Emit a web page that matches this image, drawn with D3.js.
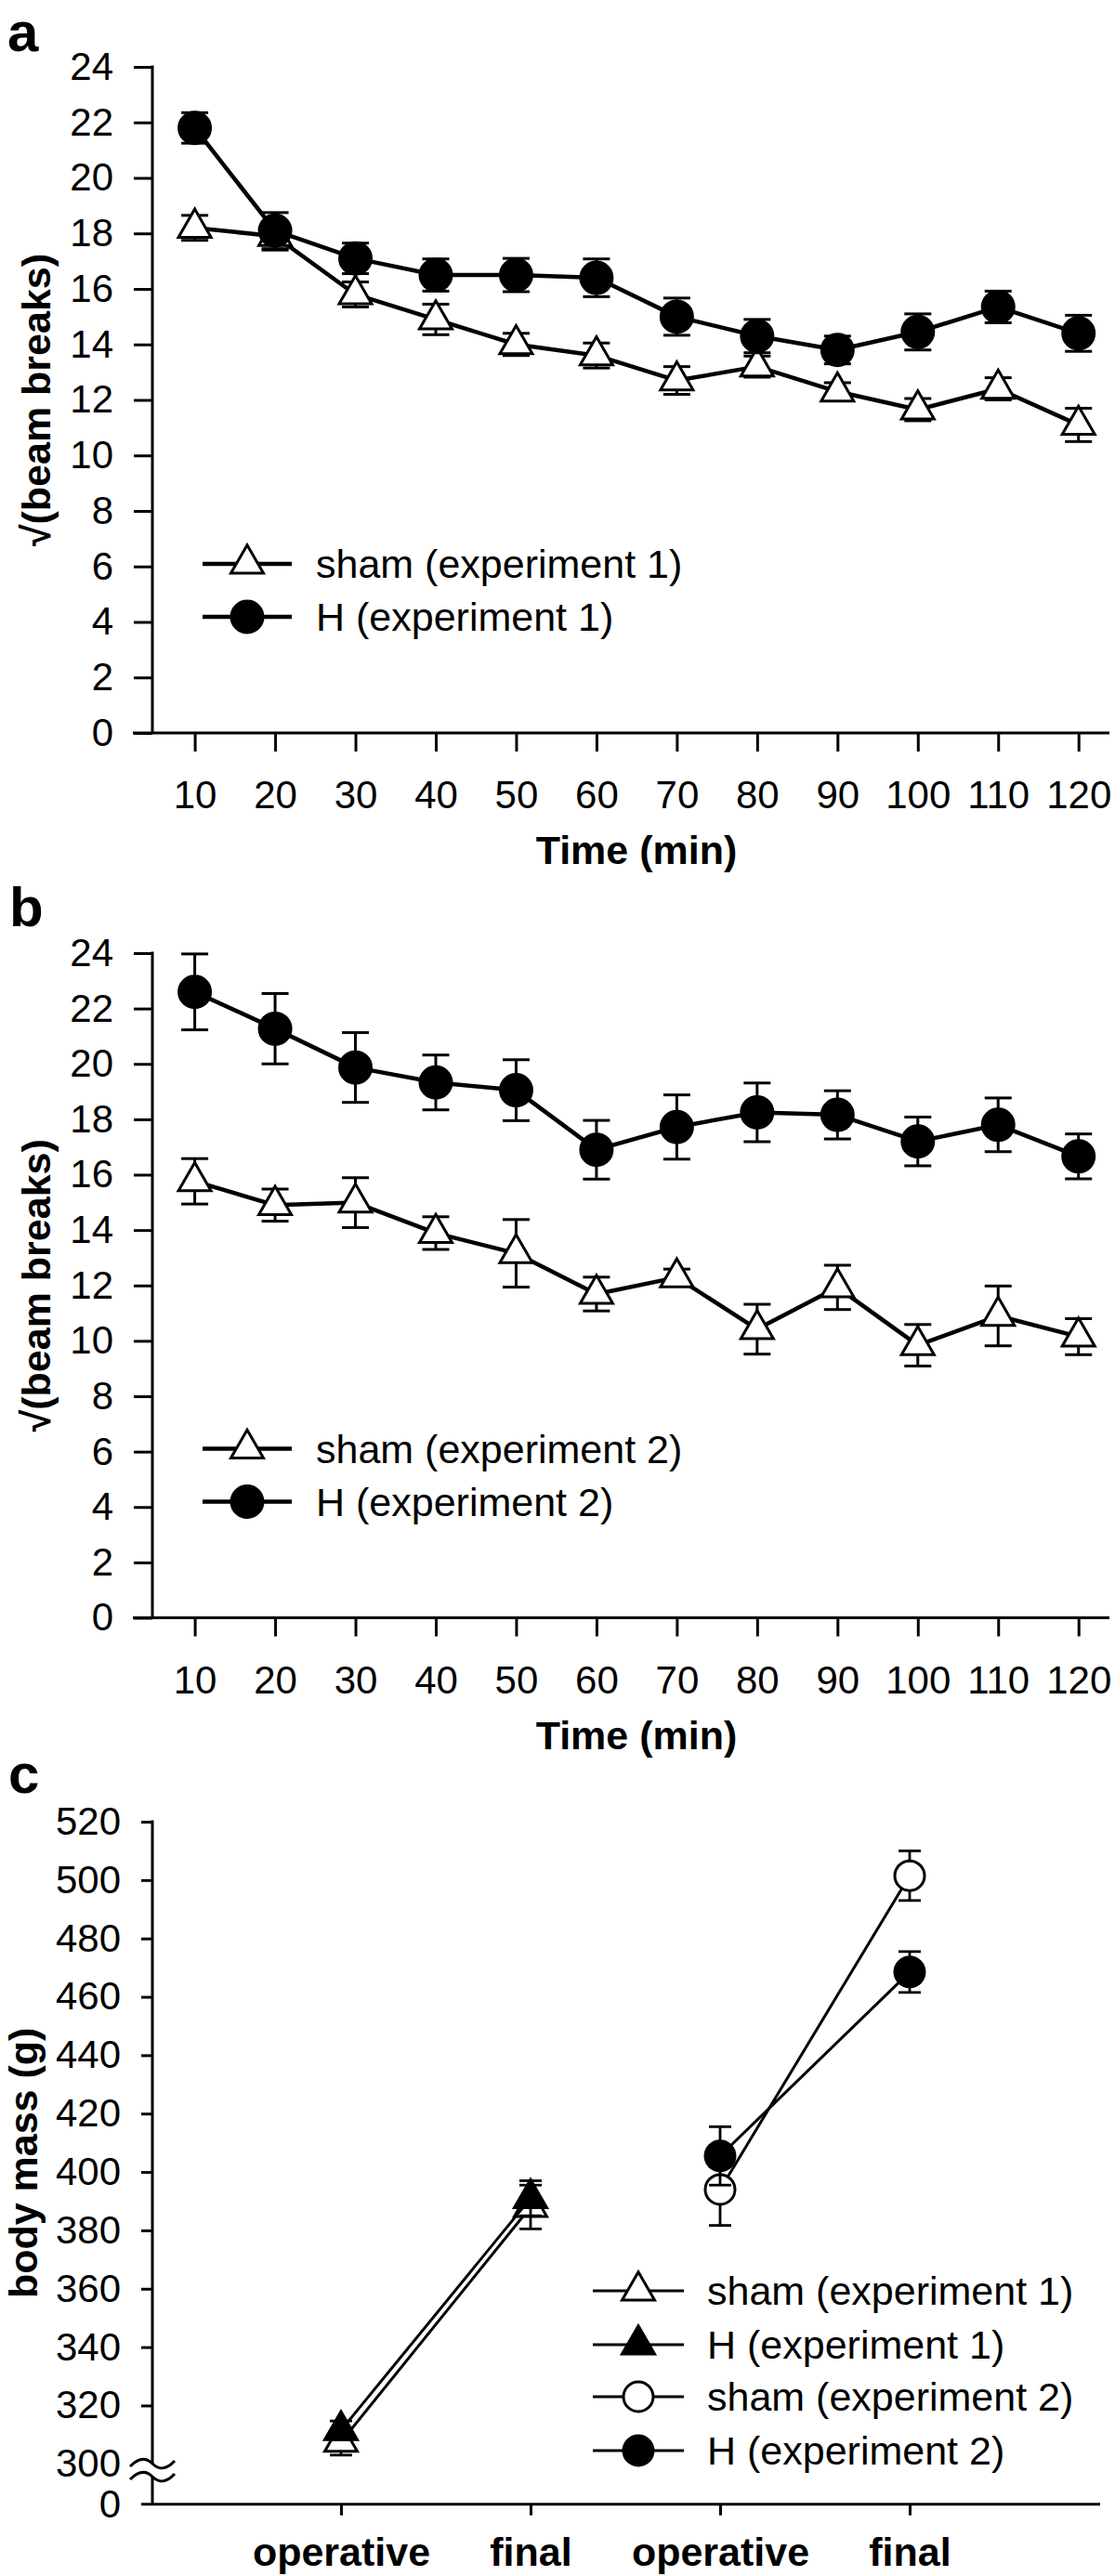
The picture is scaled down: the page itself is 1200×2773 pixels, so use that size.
<!DOCTYPE html>
<html>
<head>
<meta charset="utf-8">
<script src="https://cdn.jsdelivr.net/npm/d3@7"></script>
<style>
  body { margin: 0; background: #fff; }
  svg { display: block; }
  text { font-family: "Liberation Sans", Arial, Helvetica, sans-serif; fill: #000; }
</style>
</head>
<body>
<svg id="chart" width="1200" height="2773"></svg>
<script>
// ---------------- DATA ----------------
const times = [10, 20, 30, 40, 50, 60, 70, 80, 90, 100, 110, 120];
const yTicksActivity = [0, 2, 4, 6, 8, 10, 12, 14, 16, 18, 20, 22, 24];

// panel a (experiment 1)
const shamExp1 = [18.2, 17.9, 15.8, 14.9, 14.0, 13.6, 12.7, 13.2, 12.3, 11.65, 12.4, 11.1];
const shamExp1SE = [0.45, 0.5, 0.45, 0.55, 0.4, 0.45, 0.5, 0.38, 0.32, 0.4, 0.4, 0.6];
const hExp1 = [21.8, 18.1, 17.1, 16.5, 16.5, 16.4, 15.0, 14.3, 13.8, 14.45, 15.35, 14.4];
const hExp1SE = [0.55, 0.65, 0.55, 0.58, 0.6, 0.68, 0.67, 0.6, 0.5, 0.65, 0.57, 0.65];

// panel b (experiment 2)
const shamExp2 = [15.76, 14.9, 14.99, 13.89, 13.16, 11.69, 12.29, 10.42, 11.93, 9.84, 10.9, 10.15];
const shamExp2SE = [0.82, 0.58, 0.9, 0.59, 1.22, 0.61, 0.3, 0.9, 0.8, 0.75, 1.08, 0.65];
const hExp2 = [22.6, 21.27, 19.87, 19.33, 19.05, 16.9, 17.72, 18.25, 18.16, 17.2, 17.8, 16.66];
const hExp2SE = [1.37, 1.27, 1.26, 0.99, 1.1, 1.06, 1.16, 1.06, 0.87, 0.88, 0.97, 0.81];

// panel c (body mass)
const massKeys = ["op1", "fin1", "op2", "fin2"];
const massLabels = ["operative", "final", "operative", "final"];
const massTicks = [0, 300, 320, 340, 360, 380, 400, 420, 440, 460, 480, 500, 520];
const massShamExp1 = [307.5, 388];
const massShamExp1SE = [4.5, 7.5];
const massHExp1 = [311.5, 391];
const massHExp1SE = [3.2, 6];
const massShamExp2 = [394, 501.5];
const massShamExp2SE = [12.3, 8.5];
const massHExp2 = [405.5, 468.5];
const massHExp2SE = [10, 7];

// ---------------- DRAWING ----------------
const svg = d3.select("#chart");
const FONT_TICK = 42, FONT_TITLE = 43, FONT_LEG = 43, FONT_LETTER = 60;

function triPath(s) {
  const h = s * 0.866;
  return `M0,${-2*h/3}L${s/2},${h/3}L${-s/2},${h/3}Z`;
}

function drawMarker(g, type, x, y, opts) {
  const sw = opts.markerStroke;
  if (type === "triOpen" || type === "triFilled") {
    g.append("path").attr("d", triPath(opts.triSize))
      .attr("transform", `translate(${x},${y})`)
      .attr("fill", type === "triOpen" ? "#fff" : "#000")
      .attr("stroke", "#000").attr("stroke-width", sw).attr("stroke-linejoin", "miter");
  } else {
    g.append("circle").attr("cx", x).attr("cy", y).attr("r", opts.r)
      .attr("fill", type === "circOpen" ? "#fff" : "#000")
      .attr("stroke", "#000").attr("stroke-width", sw);
  }
}

function drawSeries(g, xs, vals, ses, yScale, type, opts) {
  const pts = xs.map((x, i) => [x, yScale(vals[i])]);
  g.append("path").attr("d", d3.line()(pts))
    .attr("fill", "none").attr("stroke", "#000").attr("stroke-width", opts.lineWidth)
    .attr("stroke-linejoin", "round");
  xs.forEach((x, i) => {
    const y1 = yScale(vals[i] + ses[i]), y2 = yScale(vals[i] - ses[i]);
    g.append("line").attr("x1", x).attr("x2", x).attr("y1", y1).attr("y2", y2)
      .attr("stroke", "#000").attr("stroke-width", opts.ebWidth);
    [y1, y2].forEach(yy => g.append("line")
      .attr("x1", x - opts.cap).attr("x2", x + opts.cap).attr("y1", yy).attr("y2", yy)
      .attr("stroke", "#000").attr("stroke-width", opts.ebWidth));
  });
  pts.forEach(p => drawMarker(g, type, p[0], p[1], opts));
}

function panelLetter(letter, x, y) {
  svg.append("text").attr("x", x).attr("y", y).text(letter)
    .attr("font-size", FONT_LETTER).attr("font-weight", "bold");
}

function yLabel(textStr, x, yc) {
  svg.append("text").attr("transform", `translate(${x},${yc}) rotate(-90)`)
    .attr("text-anchor", "middle").attr("font-size", FONT_TITLE).attr("font-weight", "bold")
    .text(textStr);
}

function legend(rows, xLine0, xLine1, xText, opts) {
  rows.forEach(r => {
    const g = svg.append("g");
    g.append("line").attr("x1", xLine0).attr("x2", xLine1).attr("y1", r.y).attr("y2", r.y)
      .attr("stroke", "#000").attr("stroke-width", opts.lineWidth);
    drawMarker(g, r.type, (xLine0 + xLine1) / 2, r.y, opts);
    g.append("text").attr("x", xText).attr("y", r.y).attr("dy", "0.36em")
      .attr("font-size", FONT_LEG).text(r.label);
  });
}

// ---- activity panels (a, b) ----
const axisX = 164;
const xTime = d3.scaleLinear().domain([10, 120]).range([209.6, 1160.7]);

function activityPanel(cfg) {
  const y = d3.scaleLinear().domain([0, 24]).range([cfg.y0, cfg.y24]);
  const opts = { lineWidth: 4.5, ebWidth: 3, cap: 14.5, r: 17, triSize: 35, markerStroke: 3 };

  const ya = svg.append("g").attr("transform", `translate(${axisX},0)`)
    .call(d3.axisLeft(y).tickValues(yTicksActivity).tickSize(20).tickPadding(22));
  ya.select(".domain").remove();
  ya.selectAll(".tick line").attr("stroke", "#000").attr("stroke-width", 3);
  ya.selectAll(".tick text").attr("font-size", FONT_TICK).attr("font-family", null);
  svg.append("line").attr("x1", axisX).attr("x2", axisX).attr("y1", cfg.y24 - 1.5).attr("y2", cfg.y0)
    .attr("stroke", "#000").attr("stroke-width", 3);

  const xa = svg.append("g").attr("transform", `translate(0,${cfg.y0})`)
    .call(d3.axisBottom(xTime).tickValues(times).tickSize(20));
  xa.select(".domain").remove();
  xa.selectAll(".tick line").attr("stroke", "#000").attr("stroke-width", 3);
  xa.selectAll(".tick text").attr("font-size", FONT_TICK).attr("font-family", null)
    .attr("y", 81).attr("dy", 0);
  svg.append("line").attr("x1", 143).attr("x2", 1194).attr("y1", cfg.y0).attr("y2", cfg.y0)
    .attr("stroke", "#000").attr("stroke-width", 3);

  svg.append("text").attr("x", 685).attr("y", cfg.y0 + 141).attr("text-anchor", "middle")
    .attr("font-size", FONT_TITLE).attr("font-weight", "bold").text("Time (min)");

  yLabel("\u221A(beam breaks)", 54, (cfg.y0 + cfg.y24) / 2);
  panelLetter(cfg.letter, cfg.letterX, cfg.letterY);

  const xs = times.map(t => xTime(t));
  const g = svg.append("g");
  drawSeries(g, xs, cfg.sham, cfg.shamSE, y, "triOpen", opts);
  drawSeries(g, xs, cfg.h, cfg.hSE, y, "circFilled", opts);

  legend([
    { y: cfg.y0 - 182, type: "triOpen", label: cfg.shamLabel },
    { y: cfg.y0 - 125, type: "circFilled", label: cfg.hLabel }
  ], 218, 314, 340, opts);
}

activityPanel({ y0: 789, y24: 72, letter: "a", letterX: 8, letterY: 55,
  sham: shamExp1, shamSE: shamExp1SE, h: hExp1, hSE: hExp1SE,
  shamLabel: "sham (experiment 1)", hLabel: "H (experiment 1)" });

activityPanel({ y0: 1741.5, y24: 1026, letter: "b", letterX: 10, letterY: 997,
  sham: shamExp2, shamSE: shamExp2SE, h: hExp2, hSE: hExp2SE,
  shamLabel: "sham (experiment 2)", hLabel: "H (experiment 2)" });

// ---- body mass panel (c) ----
(function () {
  const y0 = 2695.7;
  const y = d3.scaleLinear().domain([0, 300, 520]).range([y0, 2652.3, 1961]);
  const x = d3.scalePoint().domain(massKeys).range([367, 979]);
  const opts = { lineWidth: 3, ebWidth: 2.8, cap: 12, r: 16, triSize: 35, markerStroke: 3 };

  const ya = svg.append("g").attr("transform", `translate(${axisX},0)`)
    .call(d3.axisLeft(y).tickValues(massTicks).tickSize(12).tickPadding(22).tickFormat(d3.format("d")));
  ya.select(".domain").remove();
  ya.selectAll(".tick line").attr("stroke", "#000").attr("stroke-width", 3)
    .filter(d => d === 300 || d === 0).remove();
  ya.selectAll(".tick text").attr("font-size", FONT_TICK).attr("font-family", null);
  svg.append("line").attr("x1", axisX).attr("x2", axisX).attr("y1", 1961 - 1.5).attr("y2", y0)
    .attr("stroke", "#000").attr("stroke-width", 3);

  // axis break
  const yb1 = 2652, yb2 = 2666;
  const wave = (yy) => `M140,${yy+3} C150,${yy-7} 158,${yy-6} 164,${yy} S178,${yy+8} 188,${yy-3}`;
  svg.append("path")
    .attr("d", `M140,${yb1+3} C150,${yb1-7} 158,${yb1-6} 164,${yb1} S178,${yb1+8} 188,${yb1-3} L188,${yb2-3} C178,${yb2+8} 170,${yb2+6} 164,${yb2} S150,${yb2-7} 140,${yb2+3}Z`)
    .attr("fill", "#fff").attr("stroke", "none");
  [yb1, yb2].forEach(yy => svg.append("path").attr("d", wave(yy))
    .attr("fill", "none").attr("stroke", "#000").attr("stroke-width", 3));

  const xa = svg.append("g").attr("transform", `translate(0,${y0})`)
    .call(d3.axisBottom(x).tickSize(12).tickFormat((d, i) => massLabels[i]));
  xa.select(".domain").remove();
  xa.selectAll(".tick line").attr("stroke", "#000").attr("stroke-width", 3);
  xa.selectAll(".tick text").attr("font-size", FONT_TITLE).attr("font-weight", "bold")
    .attr("font-family", null).attr("y", 66).attr("dy", 0);
  svg.append("line").attr("x1", 152).attr("x2", 1184).attr("y1", y0).attr("y2", y0)
    .attr("stroke", "#000").attr("stroke-width", 3);

  yLabel("body mass (g)", 40, (1961 + y0) / 2);
  panelLetter("c", 9, 1930);

  const g = svg.append("g");
  const xs1 = [x("op1"), x("fin1")], xs2 = [x("op2"), x("fin2")];
  drawSeries(g, xs1, massShamExp1, massShamExp1SE, y, "triOpen", opts);
  drawSeries(g, xs1, massHExp1, massHExp1SE, y, "triFilled", opts);
  drawSeries(g, xs2, massShamExp2, massShamExp2SE, y, "circOpen", opts);
  drawSeries(g, xs2, massHExp2, massHExp2SE, y, "circFilled", opts);

  legend([
    { y: 2466, type: "triOpen", label: "sham (experiment 1)" },
    { y: 2524, type: "triFilled", label: "H (experiment 1)" },
    { y: 2580, type: "circOpen", label: "sham (experiment 2)" },
    { y: 2638, type: "circFilled", label: "H (experiment 2)" }
  ], 638, 736, 761, opts);
})();
</script>
</body>
</html>
